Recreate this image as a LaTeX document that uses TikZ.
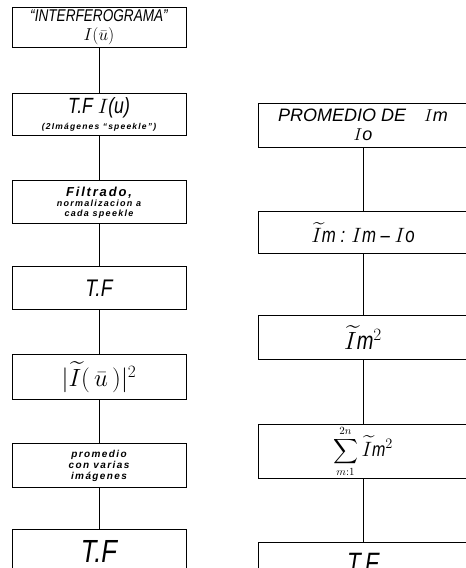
\documentclass[tikz,border=0pt]{standalone}
\usepackage{amsmath}
\usepackage{fontspec}
\newfontfamily\handfont[FakeStretch=0.8]{Liberation Sans}
\newfontfamily\handwide{Liberation Sans}
\newfontfamily\handsmall[LetterSpace=14]{Liberation Sans}
\usetikzlibrary{positioning}
\tikzset{
    % Define box style
    caja/.style={
           draw=black,
           line width=0.9pt,
           inner sep=1pt,
           align=center,},
    % Define connector style
    union/.style={
           line width=0.9pt,}
}
% size and baselineskip
\newcommand{\tam}[2]{\fontsize{#1}{#2}\selectfont}

\begin{document}
\begin{tikzpicture}[x=1pt,y=1pt,
leftbox/.style={caja, minimum width=174pt},
rightbox/.style={caja, minimum width=210pt},
]
\useasboundingbox (0,0) rectangle (466,-568);
%Left column
\node[leftbox, minimum height=40pt, font=\handfont\itshape\tam{17}{19}](interf) at (99,-27)
  {“INTERFEROGRAMA”\\$I(\bar{u})$};
\node[leftbox, minimum height=42pt, below=46pt of interf, font=\handfont\itshape\tam{22}{16}](tfi)
  {T.F\ $I$(u)\\{\handsmall\bfseries\itshape\tam{8.5}{10}(2Imágenes “speekle”)}};
\node[leftbox, minimum height=43pt, below=44pt of tfi, font=\handsmall\bfseries\itshape\tam{9}{10}](filtr)
  {{\handsmall\itshape\tam{13}{14}Filtrado,}\\normalizacion a\\cada speekle};
\node[leftbox, minimum height=43pt, below=42pt of filtr, font=\handfont\itshape\tam{24}{26}](tf)
  {T.F};
\node[leftbox, minimum height=45pt, below=44pt of tf, font=\tam{24}{26}](modsq)
  {$|\widetilde{I}(\,\bar{u}\,)|^{2}$};
\node[leftbox, minimum height=44pt, below=43pt of modsq, font=\handsmall\bfseries\itshape\tam{10}{11}](prom)
  {promedio\\con varias\\imágenes};
\node[leftbox, minimum height=44pt, below=41pt of prom, font=\handfont\itshape\tam{32}{32}](tff)
  {T.F};

%Right column
\node[rightbox, minimum height=44pt, font=\handwide\itshape\tam{18}{19}](promio) at (363,-125)
  {PROMEDIO DE\quad $I$m\\$I$o};
\node[rightbox, minimum height=42pt, below=64pt of promio, font=\handfont\itshape\tam{21}{22}](imtil)
  {$\widetilde{I}$m : $I$m – $I$o};
\node[rightbox, minimum height=44pt, below=61pt of imtil, font=\handfont\itshape\tam{25}{26}](imsq)
  {$\widetilde{I}$m$^{2}$};
\node[rightbox, minimum height=42pt, below=64pt of imsq, font=\handfont\itshape\tam{16}{17}](suma)
  {$\displaystyle\sum_{m:1}^{2n}$ {\tam{20}{22}$\widetilde{I}$m$^{2}$}};
\node[rightbox, minimum height=41pt, below=63pt of suma, font=\handfont\itshape\tam{28}{28}](tfr)
  {T.F};

%Connectors
\foreach \a/\b in {interf/tfi, tfi/filtr, filtr/tf, tf/modsq, modsq/prom, prom/tff,
                   promio/imtil, imtil/imsq, imsq/suma, suma/tfr}
  \draw[union] (\a) -- (\b);

\end{tikzpicture}
\end{document}
